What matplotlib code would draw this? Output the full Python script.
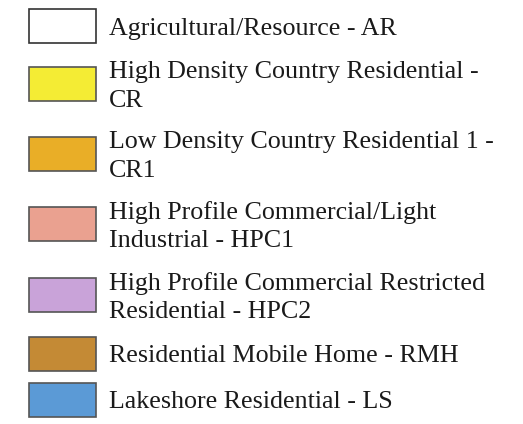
import matplotlib.pyplot as plt
from matplotlib.patches import Rectangle

# legend entries (zoning classes)
labels = [
    "Agricultural/Resource - AR",
    "High Density Country Residential -\nCR",
    "Low Density Country Residential 1 -\nCR1",
    "High Profile Commercial/Light\nIndustrial - HPC1",
    "High Profile Commercial Restricted\nResidential - HPC2",
    "Residential Mobile Home - RMH",
    "Lakeshore Residential - LS",
]
colors = ["#ffffff", "#f4ec34", "#e9ae27", "#eaa190", "#c9a3d9", "#c48a35", "#5b9ad6"]

# layout (pixels from top)
row_top = [9, 67, 137, 207, 278, 337, 383]
sw_x, sw_w, sw_h = 29, 67, 34
text_x = 109

fig = plt.figure(figsize=(5.23, 4.24), dpi=100)
ax = fig.add_axes([0, 0, 1, 1])
ax.set_xlim(0, 523)
ax.set_ylim(424, 0)
ax.axis("off")

for lab, col, top in zip(labels, colors, row_top):
    edge = "#333333" if col == "#ffffff" else "#555555"
    ax.add_patch(Rectangle((sw_x, top), sw_w, sw_h, facecolor=col,
                           edgecolor=edge, linewidth=1.2))
    ax.text(text_x, top + sw_h / 2 + 2.5, lab, va="center", ha="left",
            fontsize=18.7, family="Liberation Serif", color="#1a1a1a",
            linespacing=1.38)

fig.savefig("out.png", dpi=100)
